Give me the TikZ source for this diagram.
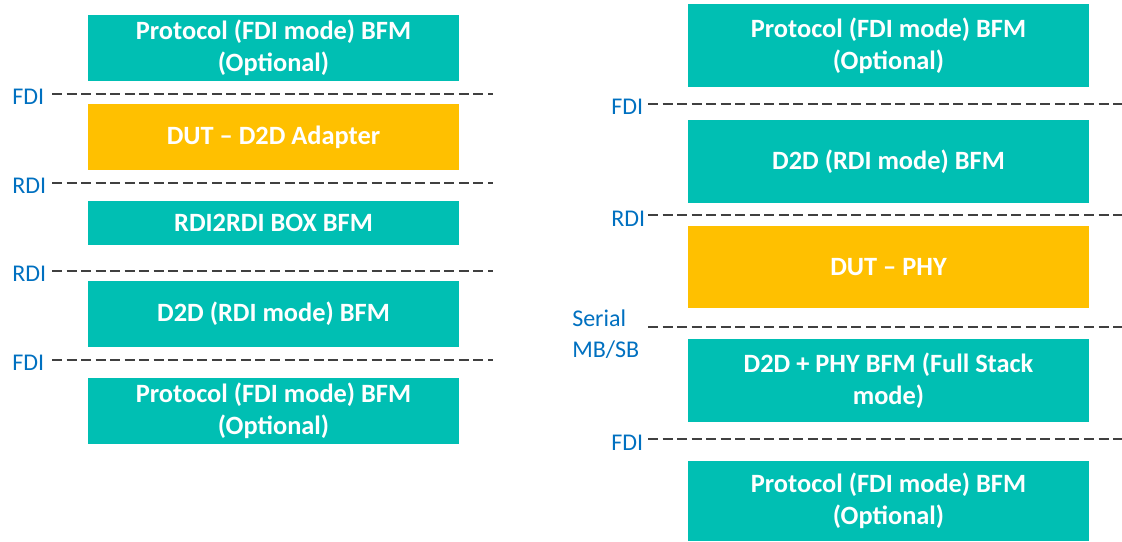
\documentclass[tikz,border=0pt]{standalone}
\usepackage{fontspec}
\setmainfont{Carlito}
\definecolor{bfmteal}{RGB}{0,191,179}
\definecolor{dutgold}{RGB}{255,192,0}
\definecolor{ifblue}{RGB}{0,112,192}
\definecolor{dashgray}{RGB}{64,64,64}
\begin{document}
\begin{tikzpicture}[x=0.75pt,y=-0.75pt,
  layer/.style={inner sep=0pt,outer sep=0pt,align=center,text=white,
    font=\bfseries\fontsize{19.8}{24}\selectfont},
  bfm/.style={layer,fill=bfmteal},
  dut/.style={layer,fill=dutgold},
  leftcol/.style={minimum width=371*0.75pt},
  rightcol/.style={minimum width=401*0.75pt},
  iflabel/.style={inner sep=0pt,text=ifblue,anchor=base west,
    font=\fontsize{18}{23.25}\selectfont},
  ifline/.style={draw=dashgray,line width=1.5pt,dash pattern=on 7.5pt off 3.4pt}]
\useasboundingbox (0,0) rectangle (1122,542);

% ---- left stack: D2D adapter as DUT ----
\node[bfm,leftcol,minimum height=66*0.75pt] (l1) at (273.5,48)  {Protocol (FDI mode) BFM\\(Optional)};
\node[dut,leftcol,minimum height=66*0.75pt] (l2) at (273.5,137) {DUT -- D2D Adapter};
\node[bfm,leftcol,minimum height=44*0.75pt] (l3) at (273.5,223) {RDI2RDI BOX BFM};
\node[bfm,leftcol,minimum height=66*0.75pt] (l4) at (273.5,314) {D2D (RDI mode) BFM};
\node[bfm,leftcol,minimum height=66*0.75pt] (l5) at (273.5,411) {Protocol (FDI mode) BFM\\(Optional)};

\node[iflabel] (lfdi1) at (12,104) {FDI};
\node[iflabel] (lrdi1) at (12,193) {RDI};
\node[iflabel] (lrdi2) at (12,281) {RDI};
\node[iflabel] (lfdi2) at (12,370) {FDI};

\coordinate (la1) at (52,94);  \coordinate (lb1) at (493,94);
\coordinate (la2) at (52,183); \coordinate (lb2) at (493,183);
\coordinate (la3) at (52,271); \coordinate (lb3) at (493,271);
\coordinate (la4) at (52,360); \coordinate (lb4) at (493,360);
\draw[ifline] (la1) -- (lb1);
\draw[ifline] (la2) -- (lb2);
\draw[ifline] (la3) -- (lb3);
\draw[ifline] (la4) -- (lb4);

% ---- right stack: PHY as DUT ----
\node[bfm,rightcol,minimum height=83*0.75pt] (r1) at (888.5,45.5)  {Protocol (FDI mode) BFM\\(Optional)};
\node[bfm,rightcol,minimum height=83*0.75pt] (r2) at (888.5,161.5) {D2D (RDI mode) BFM};
\node[dut,rightcol,minimum height=82*0.75pt] (r3) at (888.5,267)   {DUT -- PHY};
\node[bfm,rightcol,minimum height=83*0.75pt] (r4) at (888.5,380.5) {D2D + PHY BFM (Full Stack\\mode)};
\node[bfm,rightcol,minimum height=80*0.75pt] (r5) at (888.5,501)   {Protocol (FDI mode) BFM\\(Optional)};

\node[iflabel] (rfdi1) at (611,115) {FDI};
\node[iflabel] (rrdi1) at (611,226) {RDI};
\node[iflabel] (rser1) at (572,326) {Serial};
\node[iflabel] (rser2) at (572,357) {MB/SB};
\node[iflabel] (rfdi2) at (611,450) {FDI};

\coordinate (ra1) at (648,104); \coordinate (rb1) at (1122,104);
\coordinate (ra2) at (648,215); \coordinate (rb2) at (1122,215);
\coordinate (ra3) at (648,327); \coordinate (rb3) at (1122,327);
\coordinate (ra4) at (648,439); \coordinate (rb4) at (1122,439);
\draw[ifline] (ra1) -- (rb1);
\draw[ifline] (ra2) -- (rb2);
\draw[ifline] (ra3) -- (rb3);
\draw[ifline] (ra4) -- (rb4);
\end{tikzpicture}
\end{document}
